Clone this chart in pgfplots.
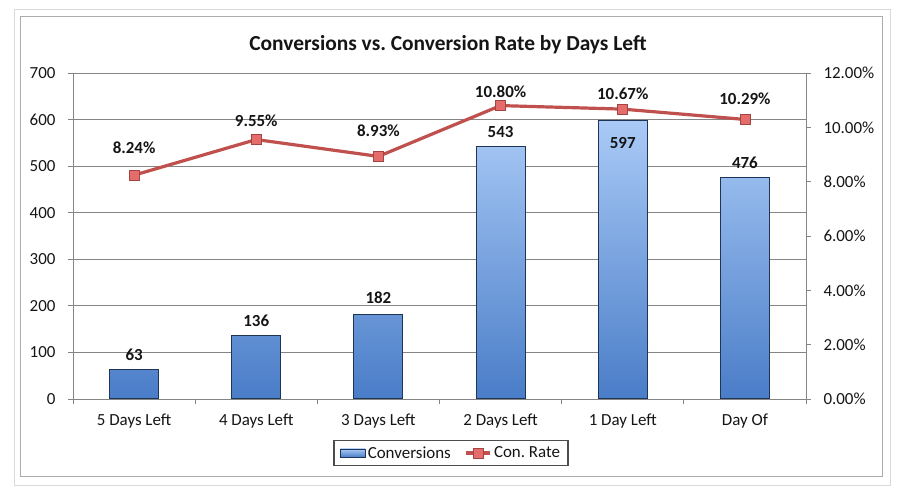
\documentclass[border=0pt]{standalone}
\usepackage{pgfplots}
\pgfplotsset{compat=1.18}
\usepackage{fontspec}
\setmainfont{Carlito}
\frenchspacing
\definecolor{barTop}{HTML}{A9CAF6}
\definecolor{barBot}{HTML}{4A7DC8}
\definecolor{barEdge}{HTML}{1F3556}
\definecolor{lineRed}{HTML}{C0504D}
\definecolor{markFill}{HTML}{E46C6A}
\definecolor{gridGray}{HTML}{858585}
\definecolor{txt}{HTML}{151515}
\begin{document}
\begin{tikzpicture}[x=1bp,y=1bp]
\path[use as bounding box] (-73,-99) rectangle (831,399);
\fill[white] (-73,-99) rectangle (831,399);
\draw[gray!30, line width=1bp] (-58,-87) rectangle (817,389);
\draw[gray!65, line width=1bp] (-52,-78) rectangle (809,382);
\node[font=\bfseries\fontsize{21.5}{25}\selectfont, text=txt] at (375,354) {Conversions vs. Conversion Rate by Days Left};
\begin{axis}[
  at={(0,0)}, anchor=south west,
  scale only axis, width=733bp, height=326bp,
  xmin=-0.5, xmax=5.5, ymin=0, ymax=700,
  ytick={0,100,...,700},
  xtick={0,...,5},
  xticklabels={5 Days Left,4 Days Left,3 Days Left,2 Days Left,1 Day Left,Day Of},
  minor xtick={-0.5,0.5,...,5.5},
  major x tick style={draw=none},
  minor x tick style={draw=gridGray},
  tick align=outside, xtick pos=bottom, ytick pos=left,
  major tick length=5bp, minor tick length=5bp,
  tick style={gridGray, line width=0.8bp},
  ymajorgrids, grid style={gridGray, line width=0.8bp},
  axis line style={gridGray, line width=0.8bp},
  ticklabel style={font=\fontsize{17}{20}\selectfont, text=txt},
  /pgf/number format/assume math mode=true,
  xticklabel style={yshift=-6bp},
  yticklabel style={xshift=-9bp},
]
\addplot[ybar, bar width=49bp, top color=barTop, bottom color=barBot, draw=barEdge, line width=1bp]
  coordinates {(0,63)(1,136)(2,182)(3,543)(4,597)(5,476)};
\addplot[draw=none, mark=none, nodes near coords, point meta=explicit symbolic,
  nodes near coords style={anchor=center, font=\bfseries\fontsize{17}{20}\selectfont, text=txt}]
  table[meta=l] {
x y l
0 94.5 63
1 167.5 136
2 216.9 182
3 573.3 543
4 549.7 597
5 506.7 476
};
\end{axis}
\begin{axis}[
  at={(0,0)}, anchor=south west,
  scale only axis, width=733bp, height=326bp,
  xmin=-0.5, xmax=5.5, ymin=0, ymax=12,
  ytick={0,2,...,12},
  axis y line*=right, axis x line=none,
  tick align=outside, major tick length=5bp,
  tick style={gridGray, line width=0.8bp},
  axis line style={gridGray, line width=0.8bp},
  ticklabel style={font=\fontsize{17}{20}\selectfont, text=txt},
  /pgf/number format/assume math mode=true,
  yticklabel={\pgfmathprintnumber[fixed,fixed zerofill,precision=2]{\tick}\%},
  yticklabel style={xshift=9bp},
  legend style={at={(0.5157,-0.1656)}, anchor=center, draw=gray!60!black, line width=1.2bp,
    font=\fontsize{17}{20}\selectfont, text=txt, legend columns=2,
    /tikz/every even column/.style={column sep=12bp}, inner xsep=6bp, inner ysep=4bp},
  legend image code/.code={\draw[mark repeat=2,mark phase=2,#1] plot coordinates {(0bp,0bp) (12bp,0bp) (24bp,0bp)};},
]
\addlegendimage{legend image code/.code={\draw[top color=barTop,bottom color=barBot,draw=barEdge,line width=0.8bp] (0bp,-4bp) rectangle (25bp,4bp);}}
\addlegendentry{Conversions}
\addplot[lineRed, line width=3.2bp, mark=square*, mark size=5bp,
  mark options={fill=markFill, draw=lineRed!85!black, line width=0.8bp}]
  coordinates {(0,8.24)(1,9.55)(2,8.93)(3,10.80)(4,10.67)(5,10.29)};
\addlegendentry{Con. Rate}
\addplot[draw=none, mark=none, nodes near coords, point meta=explicit symbolic, forget plot,
  nodes near coords style={anchor=center, font=\bfseries\fontsize{17}{20}\selectfont, text=txt}]
  table[meta=l] {
x y l
0 9.24 8.24\%
1 10.23 9.55\%
2 9.87 8.93\%
3 11.30 10.80\%
4 11.23 10.67\%
5 11.04 10.29\%
};
\end{axis}
\end{tikzpicture}
\end{document}
